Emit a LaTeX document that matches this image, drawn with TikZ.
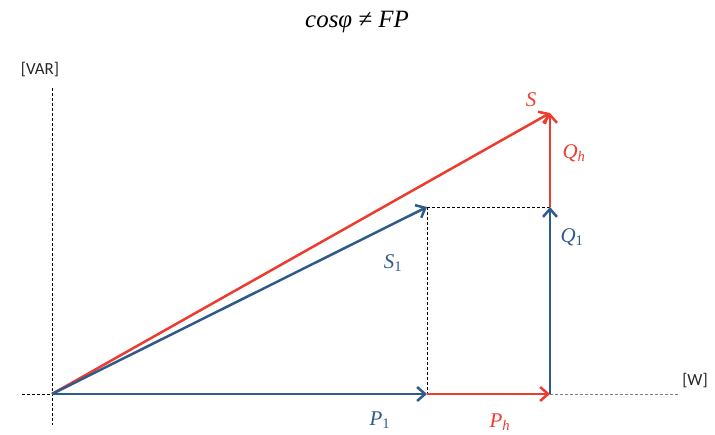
\documentclass[tikz,border=0pt]{standalone}
\usepackage{fontspec}
\newfontfamily\labfont{Carlito}
\newfontfamily\mfont{Liberation Serif}
\usetikzlibrary{arrows.meta}
\definecolor{vblue}{HTML}{2F5A8C}
\definecolor{vred}{HTML}{EE3B2F}
\newcommand{\vsym}[2]{\textit{#1}\textsubscript{#2}}
\tikzset{
  vec/.style={line width=2.5bp, -{Straight Barb[length=8bp,width=14bp,line width=2.5bp]}},
  bluevec/.style={vec, vblue},
  redvec/.style={vec, vred},
  axis/.style={line width=0.9bp, dash pattern=on 3bp off 2bp},
  guide/.style={black, line width=0.9bp, dash pattern=on 3bp off 2bp},
  lab/.style={font=\mfont\fontsize{21}{21}\selectfont, inner sep=1bp},
  unitlab/.style={font=\labfont\fontsize{17}{17}\selectfont, text=black!85},
}
\begin{document}
\begin{tikzpicture}[x=1bp,y=-1bp]
\useasboundingbox (0,0) rectangle (715,435);
% points
\coordinate (O) at (52,394);
\coordinate (S1t) at (427,207);
\coordinate (P1t) at (427,394);
\coordinate (Pht) at (550,394);
\coordinate (Q1t) at (550,207);
\coordinate (St) at (550,113);
\coordinate (ytop) at (52,88);
\coordinate (ybot) at (52,425);
\coordinate (xl) at (22,394);
\coordinate (xr) at (678,394);
% axes
\draw[axis, black] (ytop) -- (ybot);
\draw[axis, black] (xl) -- (O);
\draw[axis, gray] (Pht) -- (xr);
\node[unitlab] (var) at (40,70) {[VAR]};
\node[unitlab] (w) at (695,381) {[W]};
% guides
\draw[guide] (S1t) -- (Q1t);
\draw[guide] (S1t) -- (P1t);
% vectors
\draw[redvec] (O) -- (St);
\draw[bluevec] (O) -- (S1t);
\draw[redvec] (P1t) -- (Pht);
\draw[bluevec] (O) -- (P1t);
\draw[bluevec] (Pht) -- (Q1t);
\draw[redvec] (Q1t) -- (St);
% labels
\node[lab, text=vred] (lS) at (531,100) {\textit{S}};
\node[lab, text=vred] (lQh) at (574,153) {\vsym{Q}{\textit{h}}};
\node[lab, text=vblue] (lQ1) at (572,237) {\vsym{Q}{1}};
\node[lab, text=vblue] (lS1) at (393,263) {\vsym{S}{1}};
\node[lab, text=vblue] (lP1) at (380,420) {\vsym{P}{1}};
\node[lab, text=vred] (lPh) at (500,422) {\vsym{P}{\textit{h}}};
\node[font=\mfont\itshape\fontsize{25}{25}\selectfont] (title) at (357,22) {cosφ ≠ FP};
\end{tikzpicture}
\end{document}
